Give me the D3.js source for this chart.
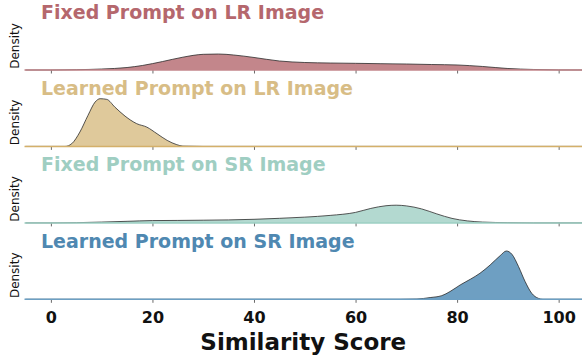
<!DOCTYPE html>
<html>
<head>
<meta charset="utf-8">
<script src="https://cdn.jsdelivr.net/npm/d3@7"></script>
<style>
  body { margin: 0; background: #fff; }
  text { font-family: 'DejaVu Sans', sans-serif; }
</style>
</head>
<body>
<div id="chart-area"></div>
<script>
// panel titles, top to bottom
var titles = ['Fixed Prompt on LR Image', 'Learned Prompt on LR Image',
              'Fixed Prompt on SR Image', 'Learned Prompt on SR Image']

// density curves (score, density)
var scoresFixedLR = [-5, 0, 5, 10, 15, 18, 22, 26, 30, 33, 36, 40, 45, 50, 55, 60, 65, 70, 75, 80, 85, 90, 95, 100, 105]
var densFixedLR   = [0, 0, .0004, .0013, .0033, .006, .0113, .0171, .0209, .0213, .02, .0167, .012, .01, .0093, .0089, .0084, .008, .0073, .0067, .0047, .002, .0007, .0001, 0]

var scoresLearnedLR = [-5, 2.8, 4.1, 5.7, 7.3, 8.7, 9.7, 11, 12.6, 14.6, 16.9, 18.9, 20.9, 22.9, 24.8, 26, 30, 105]
var densLearnedLR   = [0, 0, .0036, .0191, .0413, .0591, .0636, .0627, .0524, .0404, .0303, .0257, .0169, .008, .0023, .0004, 0, 0]

var scoresFixedSR = [-5, 0, 5, 10, 15, 20, 25, 30, 35, 40, 45, 50, 55, 60, 63, 66, 68, 70, 73, 76, 79, 82, 85, 90, 95, 105]
var densFixedSR   = [0, 0, .0003, .0011, .0021, .0031, .0033, .0036, .004, .0048, .0061, .0077, .01, .014, .0193, .0229, .0236, .0227, .0187, .012, .006, .0027, .0011, .0003, 0, 0]

var scoresLearnedSR = [-5, 68.8, 72.1, 74.7, 77, 78.6, 80.6, 82.6, 84.5, 86.5, 88.5, 89.7, 90.8, 92.1, 93.4, 94.7, 96, 96.9, 105]
var densLearnedSR   = [0, 0, .0004, .0023, .0049, .0103, .0191, .0267, .0347, .0457, .0583, .0644, .06, .0436, .0236, .008, .0013, 0, 0]

var xTicks = [0, 20, 40, 60, 80, 100]

var series = [
  { x: scoresFixedLR,   y: densFixedLR,   title: titles[0], fill: '#c3868b', text: '#b5676d', base: '#c3868b' },
  { x: scoresLearnedLR, y: densLearnedLR, title: titles[1], fill: '#dfc99b', text: '#d8bd86', base: '#d4b06a' },
  { x: scoresFixedSR,   y: densFixedSR,   title: titles[2], fill: '#b3d9d0', text: '#9fcec2', base: '#9dcfc3' },
  { x: scoresLearnedSR, y: densLearnedSR, title: titles[3], fill: '#6e9fc2', text: '#4f88b1', base: '#6c9fc3' }
]

var width = 582, height = 361
var bases = [70, 146.4, 222.9, 299.3]

var svg = d3.select('#chart-area')
  .append('svg')
    .attr('width', width)
    .attr('height', height)

var x = d3.scaleLinear()
    .domain([-5.2, 104.6])
    .range([24.5, 582])

var yh = d3.scaleLinear()
    .domain([0, 0.08])
    .range([0, 60])

series.forEach(function(s, i) {
  var base = bases[i]
  var pts = s.x.map(function(v, j) { return [v, s.y[j]] })
  var g = svg.append('g')

  var area = d3.area()
      .x(d => x(d[0]))
      .y0(base)
      .y1(d => base - yh(d[1]))
      .curve(d3.curveMonotoneX)

  var line = d3.line()
      .x(d => x(d[0]))
      .y(d => base - yh(d[1]))
      .curve(d3.curveMonotoneX)

  g.append('path')
    .datum(pts)
    .attr('d', area)
    .attr('fill', s.fill)

  g.append('path')
    .datum(pts)
    .attr('d', line)
    .attr('fill', 'none')
    .attr('stroke', '#2b2b2b')
    .attr('stroke-width', 0.8)

  // ticks under each ridge, labels only at the bottom
  var axis = d3.axisBottom(x)
      .tickValues(xTicks)
      .tickSize(3.5)
      .tickPadding(9)
      .tickFormat(i == series.length - 1 ? d3.format('d') : '')
  var ag = g.append('g')
    .attr('transform', 'translate(0,' + base + ')')
    .call(axis)
  ag.select('.domain').remove()
  ag.selectAll('.tick line').attr('stroke', '#444').attr('stroke-width', 0.8)
  ag.selectAll('.tick text')
    .attr('fill', '#111')
    .attr('font-size', '16px')
    .attr('font-weight', 'bold')
    .attr('font-family', 'DejaVu Sans')

  g.append('line')
    .attr('x1', x.range()[0]).attr('x2', x.range()[1])
    .attr('y1', base).attr('y2', base)
    .attr('stroke', s.base)
    .attr('stroke-width', 1.5)

  g.append('text')
    .attr('transform', 'translate(19,' + (base - 24) + ') rotate(-90)')
    .attr('text-anchor', 'middle')
    .attr('font-size', '12px')
    .attr('fill', '#111')
    .text('Density')

  g.append('text')
    .attr('x', 41)
    .attr('y', base - 51.5)
    .attr('font-size', '19px')
    .attr('font-weight', 'bold')
    .attr('fill', s.text)
    .text(s.title)
})

svg.append('text')
  .attr('x', (x.range()[0] + x.range()[1]) / 2)
  .attr('y', 350)
  .attr('text-anchor', 'middle')
  .attr('font-size', '23px')
  .attr('font-weight', 'bold')
  .attr('fill', '#111')
  .text('Similarity Score')
</script>
</body>
</html>
